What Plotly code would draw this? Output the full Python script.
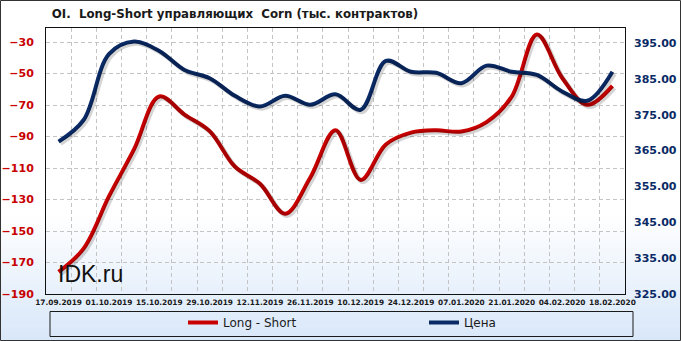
import plotly.graph_objects as go
import pandas as pd

dates = ["17.09.2019", "24.09.2019", "01.10.2019", "08.10.2019", "15.10.2019", "22.10.2019",
         "29.10.2019", "05.11.2019", "12.11.2019", "19.11.2019", "26.11.2019", "03.12.2019",
         "10.12.2019", "17.12.2019", "24.12.2019", "31.12.2019", "07.01.2020", "14.01.2020",
         "21.01.2020", "28.01.2020", "04.02.2020", "11.02.2020", "18.02.2020"]
long_short = [-176, -161, -128, -98, -64.5, -76, -86.5, -109, -120, -139, -116, -86,
              -117.5, -95, -87.5, -86, -86.8, -80.8, -64.6, -25.2, -52.6, -69.8, -57.8]
price = [367.5, 373.6, 391.9, 395.4, 392.8, 387.5, 385.2, 380.3, 377.3, 380.3, 377.8, 380.7,
         376.4, 390.0, 387.0, 386.7, 383.8, 388.7, 387.0, 386.1, 381.5, 378.9, 387.0]

xd = pd.to_datetime(dates, format="%d.%m.%Y")
tick_vals = list(xd[::2])
tick_text = dates[::2]

RED = "#c80000"
BLUE = "#0a2a66"
W, H = 681, 341
ML, MR, MT, MB = 46, 56, 28, 47
pw = W - ML - MR
ph = H - MT - MB
LRANGE = [-190, -21]
RRANGE = [325, 399.2]
half = pd.Timedelta(hours=84)
xr0, xr1 = xd[0] - half, xd[-1] + half
span_ms = (xr1 - xr0).total_seconds() * 1000
# shadow offsets (2px right, 2px down)
dx = pd.Timedelta(milliseconds=2 * span_ms / pw)
dyl = 2 * (LRANGE[1] - LRANGE[0]) / ph
dyr = 2 * (RRANGE[1] - RRANGE[0]) / ph

fig = go.Figure()
shadow = "rgba(0,0,0,0.17)"
fig.add_trace(go.Scatter(x=xd, y=long_short, mode="lines", line=dict(color=shadow, width=4.5, shape="spline"),
                         xaxis="x2", yaxis="y3", showlegend=False, hoverinfo="skip"))
fig.add_trace(go.Scatter(x=xd, y=price, mode="lines", line=dict(color=shadow, width=4.5, shape="spline"),
                         xaxis="x2", yaxis="y4", showlegend=False, hoverinfo="skip"))
fig.add_trace(go.Scatter(x=xd, y=long_short, mode="lines", name="Long - Short",
                         line=dict(color=RED, width=4, shape="spline"), xaxis="x", yaxis="y"))
fig.add_trace(go.Scatter(x=xd, y=price, mode="lines", name="Цена",
                         line=dict(color=BLUE, width=4, shape="spline"), xaxis="x", yaxis="y2"))

# background gradient bands
shapes = []
top_px, bot_px = 215, H
nb = 60
c0 = (255, 255, 255)
c1 = (216, 231, 249)
for k in range(nb):
    y0 = top_px + (bot_px - top_px) * k / nb
    y1 = top_px + (bot_px - top_px) * (k + 1) / nb + 0.5
    t = (k + 0.5) / nb
    col = tuple(int(round(c0[j] + (c1[j] - c0[j]) * t)) for j in range(3))
    shapes.append(dict(type="rect", xref="paper", yref="paper", layer="below",
                       x0=-ML / pw, x1=(W - ML) / pw,
                       y0=(H - MB - y1) / ph, y1=(H - MB - y0) / ph,
                       line=dict(width=0), fillcolor="rgb(%d,%d,%d)" % col))
# legend box
shapes.append(dict(type="rect", xref="paper", yref="paper", layer="above",
                   x0=(50 - ML) / pw, x1=(633 - ML) / pw,
                   y0=(H - MB - 336.5) / ph, y1=(H - MB - 311.5) / ph,
                   line=dict(color="#1a1a1a", width=1), fillcolor="rgba(0,0,0,0)"))
# outer border
shapes.append(dict(type="rect", xref="paper", yref="paper", layer="above",
                   x0=(0.5 - ML) / pw, x1=(W - 0.5 - ML) / pw,
                   y0=(H - MB - (H - 0.5)) / ph, y1=(H - MB - 0.5) / ph,
                   line=dict(color="#333333", width=1), fillcolor="rgba(0,0,0,0)"))

grid = dict(gridcolor="#c4c4c4", griddash="4px,3px", gridwidth=1)
fig.update_layout(
    width=W, height=H,
    margin=dict(l=ML, r=MR, t=MT, b=MB, autoexpand=False),
    paper_bgcolor="white", plot_bgcolor="rgba(0,0,0,0)",
    shapes=shapes,
    title=dict(text="OI.\u00a0 Long-Short управляющих\u00a0 Corn (тыс. контрактов)",
               font=dict(family="DejaVu Sans", size=11.8, color="#1a1a1a", weight="bold"),
               x=235 / W, xanchor="center", xref="container",
               y=1 - 14 / H, yanchor="middle", yref="container"),
    xaxis=dict(type="date", range=[xr0, xr1], tickmode="array", tickvals=tick_vals, ticktext=tick_text,
               ticks="", showgrid=False, showline=True, linecolor="#111111", linewidth=1,
               mirror=True, tickangle=0, ticklabelstandoff=1,
               minor=dict(tick0=xr0, dtick=7 * 86400000, showgrid=True, ticks="", **grid),
               tickfont=dict(family="DejaVu Sans", size=7.4, color="#1a1a1a", weight="bold"),
               zeroline=False),
    xaxis2=dict(type="date", range=[xr0 - dx, xr1 - dx], overlaying="x", visible=False),
    yaxis=dict(range=LRANGE, tick0=-190, dtick=20, showgrid=True, **grid,
               showline=True, linecolor="#111111", linewidth=1,
               mirror=True, ticks="", zeroline=False, ticklabelstandoff=9,
               tickfont=dict(family="DejaVu Sans", size=11, color=RED, weight="bold")),
    yaxis2=dict(range=RRANGE, tick0=325, dtick=10, overlaying="y", side="right", showgrid=False,
                tickformat=".2f", ticks="", zeroline=False, showline=False, ticklabelstandoff=8,
                tickfont=dict(family="DejaVu Sans", size=11, color=BLUE, weight="bold")),
    yaxis3=dict(range=[LRANGE[0] + dyl, LRANGE[1] + dyl], overlaying="y", visible=False),
    yaxis4=dict(range=[RRANGE[0] + dyr, RRANGE[1] + dyr], overlaying="y", visible=False),
    legend=dict(orientation="h", xref="container", yref="container",
                x=183 / W, xanchor="left", y=1 - 322.5 / H,
                yanchor="middle", bgcolor="rgba(0,0,0,0)", borderwidth=0,
                entrywidth=196, entrywidthmode="pixels",
                font=dict(family="DejaVu Sans", size=12, color="#1a1a1a")),
    showlegend=True,
)
fig.add_annotation(text="IDK.ru", xref="paper", yref="paper", x=(56 - ML) / pw, xanchor="left",
                   y=(H - MB - 274) / ph, yanchor="middle", showarrow=False,
                   font=dict(family="Liberation Sans", size=23, color="#111111"))

fig.write_html("out.html")
